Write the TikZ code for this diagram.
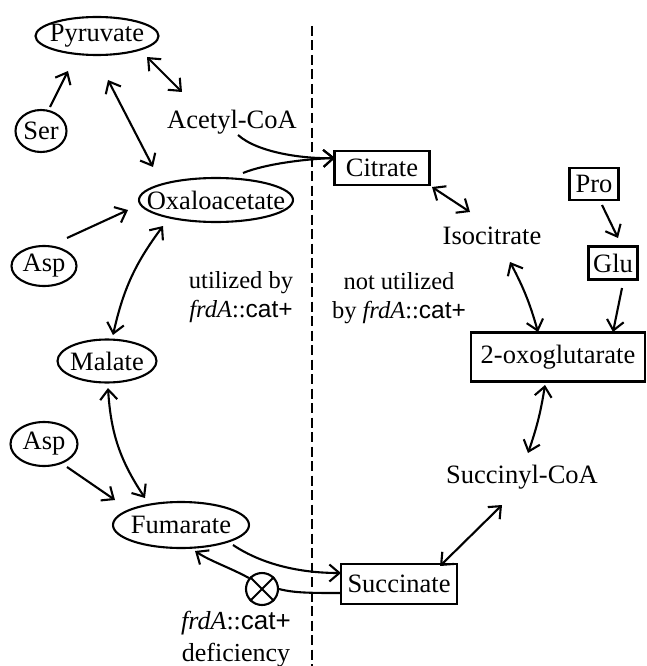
\documentclass[tikz,border=0pt]{standalone}
\usepackage{fontspec}
\setmainfont{Liberation Serif}
\newfontfamily\arialf{Liberation Sans}
\usetikzlibrary{arrows.meta,shapes.geometric,calc}
\newcommand\zw[1]{\makebox[0pt]{#1}}
\newcommand\frd{\textit{frdA}::{\arialf cat+}}
\newcommand\nodefont{\fontsize{26.5}{30}\selectfont}
\newcommand\labfont{\fontsize{24.5}{29}\selectfont}
\newcommand\labfontb{\fontsize{26}{32}\selectfont}
\begin{document}
\begin{tikzpicture}[x=1pt,y=-1pt,
  line width=2.1pt,
  >={Straight Barb[length=10pt,width=17pt]},
  ell/.style={ellipse,draw,inner sep=0pt,font=\nodefont},
  box/.style={rectangle,draw,inner sep=0pt,font=\nodefont},
  txt/.style={inner sep=0pt,font=\nodefont},
  lab/.style={inner sep=0pt,align=center,font=\labfont},
  labb/.style={inner sep=0pt,align=center,font=\labfontb},
  dashline/.style={dash pattern=on 10pt off 4.5pt,line width=2pt},
]
\useasboundingbox (0,0) rectangle (647,666);

% divider
\coordinate (dtop) at (312,26);
\coordinate (dbot) at (312,666);
\draw[dashline] (dtop) -- (dbot);

% ellipse nodes
\node[ell,minimum width=123pt,minimum height=38pt] (pyr) at (97,36) {\zw{Pyruvate}};
\node[ell,minimum width=51pt,minimum height=42pt] (ser) at (41,131) {\zw{Ser}};
\node[ell,minimum width=154pt,minimum height=44pt] (oxa) at (216,200) {\zw{Oxaloacetate}};
\node[ell,minimum width=65pt,minimum height=40pt] (asp1) at (44,266) {\zw{Asp}};
\node[ell,minimum width=99pt,minimum height=43pt] (mal) at (107,361) {\zw{Malate}};
\node[ell,minimum width=67pt,minimum height=44pt] (asp2) at (44,444) {\zw{Asp}};
\node[ell,minimum width=136pt,minimum height=46pt] (fum) at (181,525) {\zw{Fumarate}};

% box nodes
\node[box,minimum width=95pt,minimum height=34pt] (cit) at (382,168) {\zw{Citrate}};
\node[box,minimum width=49pt,minimum height=32pt] (pro) at (594,184) {\zw{Pro}};
\node[box,minimum width=49pt,minimum height=33pt] (glu) at (613,263) {\zw{Glu}};
\node[box,minimum width=174pt,minimum height=49pt] (oxg) at (558,357) {\zw{2-oxoglutarate}};
\node[box,minimum width=116pt,minimum height=40pt] (suc) at (399,584) {\zw{Succinate}};

% plain text nodes
\node[txt] (acetyl) at (232,122) {Acetyl-CoA};
\node[txt] (iso) at (492,236) {Isocitrate};
\node[txt] (sucoa) at (522,477) {Succinyl-CoA};

% labels
\node[lab] (lutil) at (241,297.5) {utilized by\\\frd};
\node[lab] (lnot) at (399,298) {not utilized\\by \frd};
\node[labb] (ldef) at (236,639) {\frd\\deficiency};

% blocked reaction symbol
\node[circle,draw,minimum size=32pt,inner sep=0pt] (blk) at (262,589) {};
\draw (blk.45) -- (blk.225);
\draw (blk.135) -- (blk.-45);

% connectors
\draw[->] ($(ser)+(9,-24)$) -- ($(pyr)+(-29,35)$);
\draw[<->] ($(pyr)+(50,21)$) -- ($(acetyl)+(-50,-30)$);
\draw[<->] ($(pyr)+(11,44)$) -- ($(oxa)+(-63,-33)$);
\draw[->] ($(acetyl)+(6,13)$) .. controls +(20,18) and +(-30,1) .. ($(cit)+(-47,-10)$);
\draw[->] ($(oxa)+(27,-27)$) .. controls +(22,-9) and +(-30,1) .. ($(cit)+(-47,-10)$);
\draw[<->] ($(cit)+(50,19)$) -- ($(iso)+(-22,-24)$);
\draw[->] ($(pro)+(8,21)$) -- ($(glu)+(5,-25)$);
\draw[<->] ($(iso)+(18,26)$) to[bend left=6] ($(oxg)+(-20,-25)$);
\draw[->] ($(glu)+(9,25)$) -- ($(oxg)+(55,-25)$);
\draw[<->] ($(oxg)+(-13,28)$) to[bend left=5] ($(sucoa)+(6,-24)$);
\draw[<->] ($(sucoa)+(-20,28)$) -- ($(suc)+(41,-18)$);
\draw[->] ($(fum)+(52,20)$) .. controls +(30,20) and +(-40,0) .. ($(suc)+(-58,-11)$);
\draw (blk.east) .. controls +(15,4) and +(-30,0) .. ($(suc)+(-58,9)$);
\draw[->] (blk.140) .. controls +(-18,-10) and +(15,10) .. ($(fum)+(14,26)$);
\draw[->] ($(asp1)+(23,-28)$) -- ($(oxa)+(-88,10)$);
\draw[<->] ($(oxa)+(-53,26)$) to[bend right=12] ($(mal)+(6,-26)$);
\draw[<->] ($(mal)+(1,27)$) to[bend right=15] ($(fum)+(-36,-27)$);
\draw[->] ($(asp2)+(23,23)$) -- ($(fum)+(-66,-25)$);
\end{tikzpicture}
\end{document}
